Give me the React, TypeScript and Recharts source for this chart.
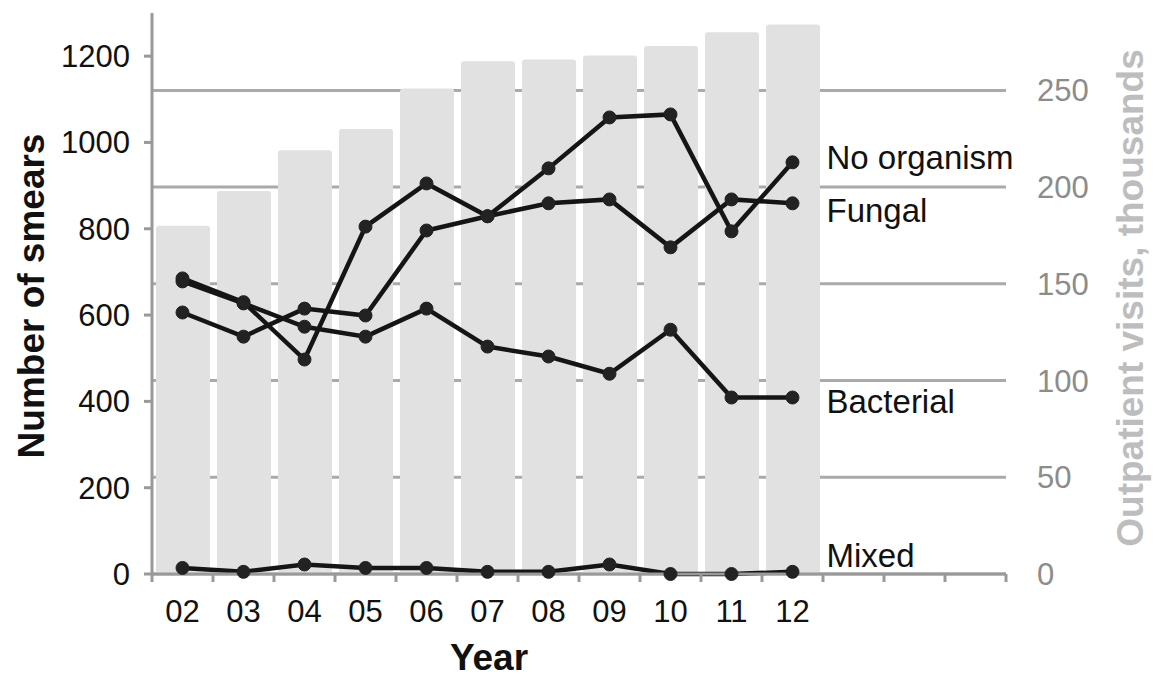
import {
  ComposedChart,
  Bar,
  Line,
  XAxis,
  YAxis,
  CartesianGrid,
  LabelList,
} from "recharts";

// values
const years = ["02", "03", "04", "05", "06", "07", "08", "09", "10", "11", "12"];
const outpatientVisits = [180, 198, 219, 230, 251, 265, 266, 268, 273, 280, 284];
const noOrganism = [685, 630, 497, 805, 905, 829, 940, 1058, 1065, 794, 954];
const fungal = [606, 550, 615, 599, 796, 829, 859, 868, 757, 868, 859];
const bacterial = [678, 627, 573, 550, 615, 527, 504, 464, 566, 409, 409];
const mixed = [14, 5, 22, 14, 14, 5, 5, 22, 0, 0, 5];
const smearTicks = [0, 200, 400, 600, 800, 1000, 1200];
const visitTicks = [0, 50, 100, 150, 200, 250];
const visitMax = 290;
const emptySlots = 3; // room on the right for the line names

const data = [
  ...years.map((year, i) => ({
    year,
    visits: outpatientVisits[i],
    noOrganism: noOrganism[i],
    fungal: fungal[i],
    bacterial: bacterial[i],
    mixed: mixed[i],
  })),
  ...Array.from({ length: emptySlots }, () => ({ year: "" })),
];

const series = [
  { key: "noOrganism", name: "No organism", dy: -5 },
  { key: "fungal", name: "Fungal", dy: 7 },
  { key: "bacterial", name: "Bacterial", dy: 4 },
  { key: "mixed", name: "Mixed", dy: -16 },
];

const W = 1153;
const H = 677;
const LEFT = 152;
const RIGHT_W = 147;
const TOP = 13;
const X_H = 103;
const BOTTOM_Y = H - X_H;
const BAND = (W - LEFT - RIGHT_W) / data.length;
const FONT = 31;
const AXIS = "#999";

function YearTick(props: any) {
  const { x, payload, index } = props;
  const half = BAND / 2;
  return (
    <g>
      <line x1={x - half} x2={x - half} y1={BOTTOM_Y} y2={BOTTOM_Y + 8} stroke={AXIS} strokeWidth={3} />
      {index === data.length - 1 && (
        <line x1={x + half} x2={x + half} y1={BOTTOM_Y} y2={BOTTOM_Y + 8} stroke={AXIS} strokeWidth={3} />
      )}
      {payload.value && (
        <text x={x} y={622} textAnchor="middle" fontSize={FONT} fill="#111">
          {payload.value}
        </text>
      )}
    </g>
  );
}

const endLabel = (text: string, dy: number) => (props: any) => {
  const { index } = props;
  if (index !== years.length - 1) return null;
  const px = props.x ?? props.viewBox?.x;
  const py = props.y ?? props.viewBox?.y;
  return (
    <text x={px + 34} y={py + dy} dominantBaseline="central" fontSize={33} fill="#111">
      {text}
    </text>
  );
};

// grid rows at the right-axis ticks only
const gridRows = ({ yAxis, offset }: any) => {
  const scale = yAxis?.scale;
  if (typeof scale === "function") return visitTicks.map((t) => scale(t));
  return visitTicks.map((t) => offset.top + offset.height * (1 - t / visitMax));
};

// skip the frame line that the grid adds at the top edge
const gridLine = (props: any) => {
  const { x1, x2, y1, y2, key } = props;
  if (y1 < TOP + 2) return <g key={key} />;
  return <line key={key} x1={x1} x2={x2} y1={y1} y2={y2} stroke="#aaa" strokeWidth={3} />;
};

export default function App() {
  return (
    <div
      style={{
        position: "absolute",
        left: 0,
        top: 0,
        width: W,
        height: H,
        background: "#fff",
        fontFamily: "'Liberation Sans', Arial, sans-serif",
      }}
    >
      <ComposedChart width={W} height={H} data={data} margin={{ top: TOP, right: 0, bottom: 0, left: 0 }}>
        <CartesianGrid
          vertical={false}
          yAxisId="right"
          stroke="#aaa"
          strokeWidth={3}
          horizontal={gridLine}
          horizontalCoordinatesGenerator={gridRows}
        />
        <XAxis
          dataKey="year"
          height={X_H}
          interval={0}
          tickLine={false}
          axisLine={{ stroke: AXIS, strokeWidth: 3 }}
          tick={<YearTick />}
        />
        <YAxis
          yAxisId="left"
          width={LEFT}
          domain={[0, 1300]}
          ticks={smearTicks}
          axisLine={{ stroke: AXIS, strokeWidth: 3 }}
          tickLine={{ stroke: AXIS, strokeWidth: 3 }}
          tickSize={8}
          tickMargin={14}
          tick={{ fill: "#111", fontSize: FONT }}
        />
        <YAxis
          yAxisId="right"
          orientation="right"
          width={RIGHT_W}
          domain={[0, visitMax]}
          ticks={visitTicks}
          axisLine={false}
          tickLine={false}
          tickSize={0}
          tickMargin={31}
          tick={{ fill: "#8c8c8c", fontSize: FONT }}
        />
        <Bar
          yAxisId="right"
          dataKey="visits"
          fill="#e1e1e1"
          barSize={54}
          radius={[3, 3, 0, 0]}
          isAnimationActive={false}
        />
        {series.map((s) => (
          <Line
            key={s.key}
            yAxisId="left"
            dataKey={s.key}
            stroke="#151515"
            strokeWidth={4.5}
            dot={{ r: 6.5, fill: "#222", stroke: "#222", strokeWidth: 1 }}
            isAnimationActive={false}
          >
            <LabelList dataKey={s.key} content={endLabel(s.name, s.dy)} />
          </Line>
        ))}
      </ComposedChart>
      <svg
        width={W}
        height={H}
        style={{ position: "absolute", left: 0, top: 0, pointerEvents: "none" }}
      >
        <text
          transform="translate(44, 296) rotate(-90)"
          textAnchor="middle"
          fontSize={37}
          fontWeight="bold"
          fill="#111"
        >
          Number of smears
        </text>
        <text x={489} y={670} textAnchor="middle" fontSize={37} fontWeight="bold" fill="#111">
          Year
        </text>
        <text
          transform="translate(1143, 298) rotate(-90)"
          textAnchor="middle"
          fontSize={37}
          fontWeight="bold"
          fill="#bdbdbd"
        >
          Outpatient visits, thousands
        </text>
      </svg>
    </div>
  );
}
